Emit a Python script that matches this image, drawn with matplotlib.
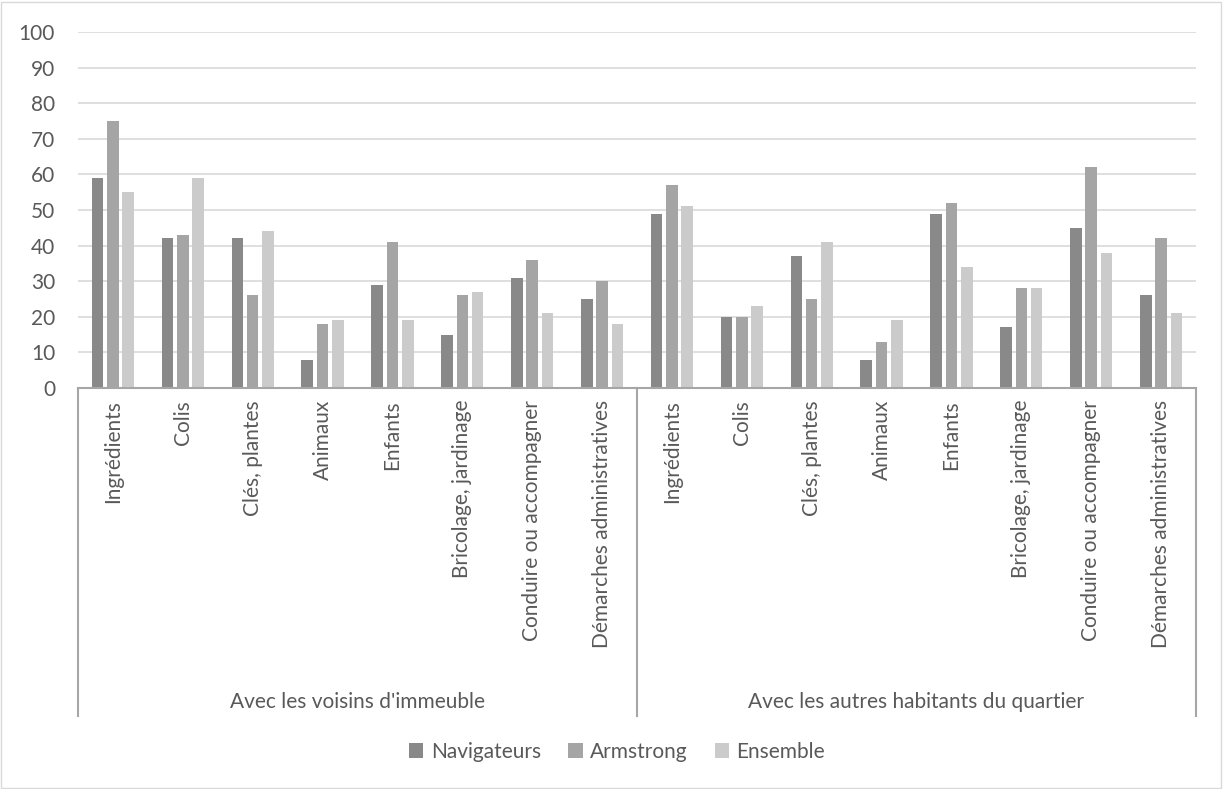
import matplotlib
matplotlib.use("Agg")
import matplotlib.pyplot as plt
from matplotlib.patches import Patch, Rectangle
from matplotlib.lines import Line2D
import numpy as np

plt.rcParams['font.family'] = ['Lato', 'DejaVu Sans']

groups = ["Avec les voisins d'immeuble", "Avec les autres habitants du quartier"]
categories = ["Ingrédients", "Colis", "Clés, plantes", "Animaux", "Enfants",
              "Bricolage, jardinage", "Conduire ou accompagner",
              "Démarches administratives"]
series = ["Navigateurs", "Armstrong", "Ensemble"]

# voisins d'immeuble
navigateurs_imm = [59, 42, 42, 8, 29, 15, 31, 25]
armstrong_imm = [75, 43, 26, 18, 41, 26, 36, 30]
ensemble_imm = [55, 59, 44, 19, 19, 27, 21, 18]
# autres habitants du quartier
navigateurs_qua = [49, 20, 37, 8, 49, 17, 45, 26]
armstrong_qua = [57, 20, 25, 13, 52, 28, 62, 42]
ensemble_qua = [51, 23, 41, 19, 34, 28, 38, 21]

colors = ["#898989", "#a5a5a5", "#cbcbcb"]
txt_clr = "#595959"
fs = 15

W, H = 1223, 789
fig = plt.figure(figsize=(W / 100, H / 100), dpi=100)
fig.patches.append(Rectangle((0.001, 0.001), 0.997, 0.997, transform=fig.transFigure,
                             fill=False, edgecolor="#d9d9d9", linewidth=1))

left, right, bottom, top = 78 / W, 1196 / W, 1 - 388 / H, 1 - 32 / H
ax = fig.add_axes([left, bottom, right - left, top - bottom])

vals = [navigateurs_imm + navigateurs_qua,
        armstrong_imm + armstrong_qua,
        ensemble_imm + ensemble_qua]
n = len(categories) * len(groups)
x = np.arange(n)
step = 0.219
bw = 0.165
for k in range(3):
    ax.bar(x + (k - 1) * step, vals[k], width=bw, color=colors[k],
           edgecolor="none", zorder=3)

ax.set_xlim(-0.5, n - 0.5)
ax.set_ylim(0, 100)
ax.set_yticks(range(0, 101, 10))
ax.yaxis.grid(True, color="#d9d9d9", linewidth=1.2, zorder=0)
ax.tick_params(axis="y", length=0, pad=16.5, labelsize=fs, labelcolor=txt_clr)
ax.set_xticks([])
for s in ["top", "right", "left"]:
    ax.spines[s].set_visible(False)
ax.spines["bottom"].set_color("#a6a6a6")
ax.spines["bottom"].set_linewidth(1.5)
ax.spines["bottom"].set_zorder(4)

# inner category labels
ax_h = 388 - 32
trans = ax.get_xaxis_transform()
labels = categories + categories
for i, lab in enumerate(labels):
    ax.text(i, -12 / ax_h, lab, rotation=90, ha="center", va="top",
            fontsize=fs, color=txt_clr, transform=trans)

# group separators and outer labels
y_low = -(716 - 388) / ax_h
for xs in [-0.5, 7.5, 15.5]:
    ax.add_line(Line2D([xs, xs], [0, y_low], transform=trans, color="#a6a6a6",
                       linewidth=1.5, clip_on=False))
for g, name in enumerate(groups):
    ax.text(3.5 + 8 * g, -(702 - 388) / ax_h, name, ha="center", va="center",
            fontsize=fs, color=txt_clr, transform=trans)

handles = [Patch(facecolor=c, edgecolor="none") for c in colors]
fig.legend(handles, series, loc="center", bbox_to_anchor=(617 / W, 1 - 752 / H),
           ncol=3, frameon=False, fontsize=fs, handlelength=0.7, handleheight=0.7,
           handletextpad=0.35, columnspacing=1.3, labelcolor=txt_clr)

fig.savefig("out.png", dpi=100)
